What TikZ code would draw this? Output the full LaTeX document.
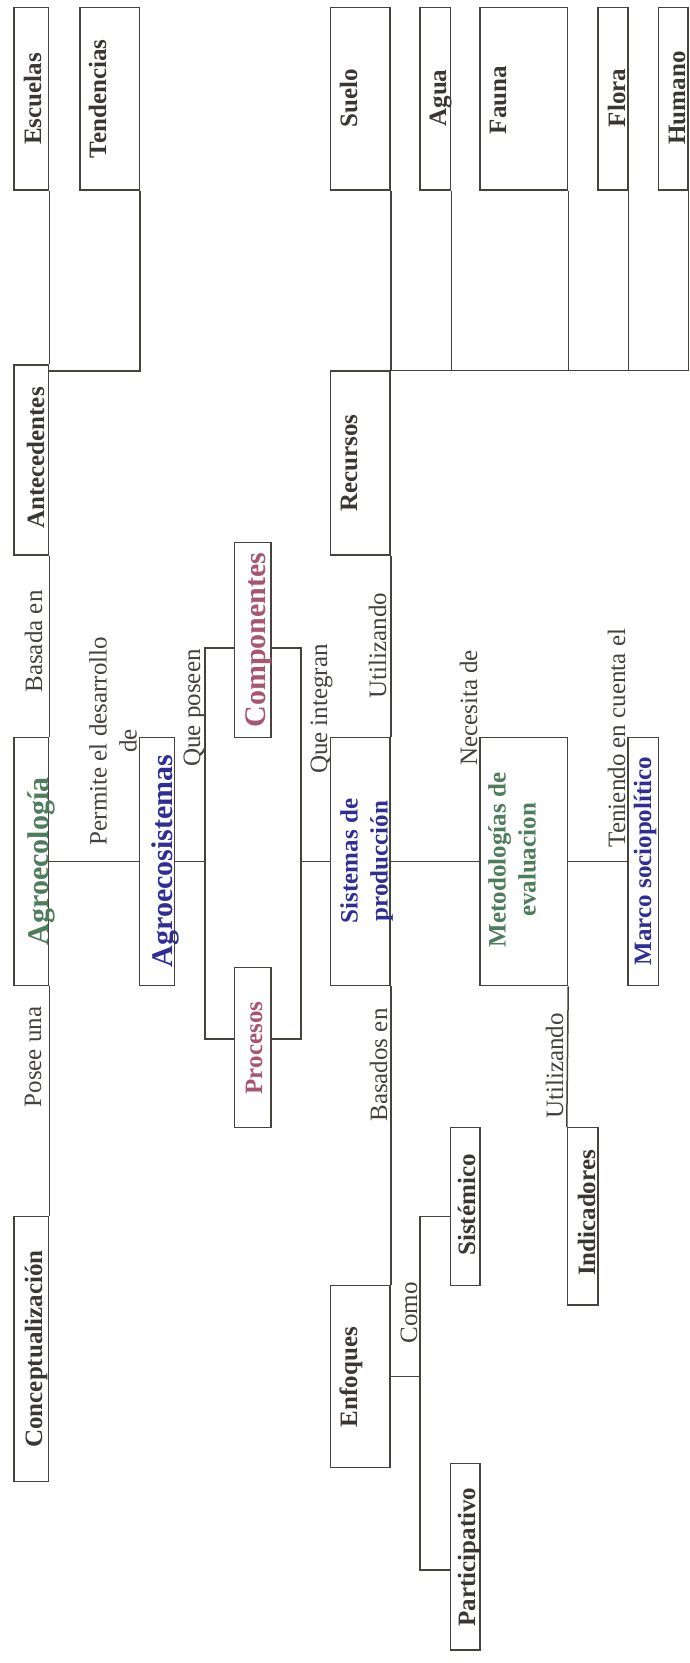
\documentclass[tikz,border=0pt]{standalone}
\usepackage{fontspec}
\setmainfont{Liberation Serif}
\definecolor{ln}{HTML}{46423E}
\definecolor{tx}{HTML}{3A3633}
\definecolor{lt}{HTML}{45413E}
\definecolor{gr}{HTML}{4E7D5B}
\definecolor{bl}{HTML}{2E2E96}
\definecolor{pk}{HTML}{A8566F}
\tikzset{
  box/.style={draw=ln, line width=1.5pt, inner sep=0pt, minimum width=#1},
  conn/.style={draw=ln, line width=1.5pt},
  bt/.style={rotate=90, anchor=base, inner sep=0pt, text=tx, font=\fontsize{25}{30}\selectfont\bfseries},
  big/.style={rotate=90, anchor=base, inner sep=0pt, text=tx, font=\fontsize{30}{34}\selectfont\bfseries},
  bc/.style={rotate=90, anchor=center, align=center, inner sep=0pt, text=tx, font=\fontsize{25}{30}\selectfont\bfseries},
  lb/.style={rotate=90, anchor=base, inner sep=0pt, text=lt, font=\fontsize{25}{30}\selectfont},
  lc/.style={rotate=90, anchor=center, align=center, inner sep=0pt, text=lt, font=\fontsize{25}{30}\selectfont},
}
\begin{document}
\begin{tikzpicture}[x=1pt,y=-1pt]
\fill[white] (0,0) rectangle (689,1663);
\useasboundingbox (0,0) rectangle (689,1663);
% boxes
\node[box=34.5pt, minimum height=182.7pt] (Esc) at (31.25,98.65) {};
\node[box=59.1pt, minimum height=182.7pt] (Ten) at (109.75,98.65) {};
\node[box=59.5pt, minimum height=182.7pt] (Sue) at (360.45,98.65) {};
\node[box=30.4pt, minimum height=182.7pt] (Agu) at (435.4,98.65) {};
\node[box=87.3pt, minimum height=182.7pt] (Fau) at (523.85,98.65) {};
\node[box=30pt, minimum height=182.7pt] (Flo) at (612.9,98.65) {};
\node[box=29.5pt, minimum height=182.7pt] (Hum) at (673.05,98.65) {};
\node[box=34.5pt, minimum height=190pt] (Ant) at (31.25,460) {};
\node[box=59.5pt, minimum height=184pt] (Rec) at (360.45,463) {};
\node[box=36.5pt, minimum height=195pt] (Com) at (252.75,640.2) {};
\node[box=34.5pt, minimum height=248pt] (Agr) at (31.25,861.7) {};
\node[box=35.3pt, minimum height=248pt] (Aes) at (156.95,861.7) {};
\node[box=59.5pt, minimum height=248pt] (Sis) at (360.45,861.7) {};
\node[box=87.3pt, minimum height=248pt] (Met) at (523.85,861.7) {};
\node[box=30.3pt, minimum height=248pt] (Mar) at (643.15,861.7) {};
\node[box=36.5pt, minimum height=160pt] (Pro) at (252.75,1047.7) {};
\node[box=29.6pt, minimum height=158pt] (Sst) at (465.4,1206.7) {};
\node[box=30.4pt, minimum height=177.3pt] (Ind) at (582.7,1216.35) {};
\node[box=34.5pt, minimum height=265pt] (Con) at (31.25,1349.2) {};
\node[box=59.5pt, minimum height=182pt] (Enf) at (360.45,1376.7) {};
\node[box=29.6pt, minimum height=186.7pt] (Par) at (465.4,1556.65) {};
% junction points
\coordinate (jA) at (48.5,371);
\coordinate (b1) at (205,648);
\coordinate (b2) at (301,648);
\coordinate (b3) at (205,1039);
\coordinate (b4) at (301,1039);
\coordinate (c1) at (420.2,1216.7);
\coordinate (c2) at (420.2,1570);
% connectors
\draw[conn] (Esc.south east) -- (Ant.north east);
\draw[conn] (Ten.south east) |- (jA);
\draw[conn] (Sue.south east) -- (Rec.north east);
\draw[conn] (Agu.south east) |- (Rec.north east);
\draw[conn] (Fau.south east) |- (Rec.north east);
\draw[conn] (Flo.south east) |- (Rec.north east);
\draw[conn] (Hum.south east) |- (Rec.north east);
\draw[conn] (Ant.south east) -- (Agr.north east);
\draw[conn] (Agr.south east) -- (Con.north east);
\draw[conn] (Agr.east) -- (Aes.west);
\draw[conn] (Aes.east) -- (Aes.east -| b1);
\draw[conn] (Com.west |- b1) -- (b1) -- (b3) -- (Pro.west |- b3);
\draw[conn] (Com.east |- b2) -- (b2) -- (b4) -- (Pro.east |- b4);
\draw[conn] (Sis.west -| b2) -- (Sis.west);
\draw[conn] (Rec.south east) -- (Sis.north east);
\draw[conn] (Sis.south east) -- (Enf.north east);
\draw[conn] (Sis.east) -- (Met.west);
\draw[conn] (Met.east) -- (Mar.west);
\draw[conn] (Met.south east) -- (Ind.north west);
\draw[conn] (Enf.east) -- (Enf.east -| c1);
\draw[conn] (Sst.west |- c1) -- (c1) -- (c2) -- (Par.west |- c2);
% box texts
\node[bt] (tEsc) at (41,99) {Escuelas};
\node[bt] (tTen) at (106,99) {Tendencias};
\node[bt] (tSue) at (357,98.5) {Suelo};
\node[bt] (tAgu) at (446,98) {Agua};
\node[bt] (tFau) at (506,100) {Fauna};
\node[bt] (tFlo) at (625,98) {Flora};
\node[bt] (tHum) at (685,98) {Humano};
\node[bt] (tAnt) at (44,458) {Antecedentes};
\node[bt] (tRec) at (357,463) {Recursos};
\node[big, text=pk] (tCom) at (265,640) {Componentes};
\node[big, text=gr] (tAgr) at (48,861.5) {Agroecología};
\node[big, text=bl] (tAes) at (172,861) {Agroecosistemas};
\node[bc, text=bl] (tSis) at (366.5,861) {Sistemas de\\producción};
\node[bc, text=gr] (tMet) at (512,860) {Metodologías de\\evaluacion};
\node[bt, text=bl] (tMar) at (651,861) {Marco sociopolítico};
\node[bt, text=pk] (tPro) at (262,1048) {Procesos};
\node[bt] (tSst) at (475,1205) {Sistémico};
\node[bt] (tInd) at (595,1213) {Indicadores};
\node[bt] (tCon) at (42,1349) {Conceptualización};
\node[bt] (tEnf) at (357,1377) {Enfoques};
\node[bt] (tPar) at (475,1557) {Participativo};
% connector labels
\node[lb] (l1) at (42,641.5) {Basada en};
\node[lb] (l2) at (41,1057) {Posee una};
\node[lc] (l3) at (113,741) {Permite el desarrollo\\de};
\node[lb] (l4) at (200,708) {Que poseen};
\node[lb] (l5) at (327,709) {Que integran};
\node[lb] (l6) at (386,645.5) {Utilizando};
\node[lb] (l7) at (477,708) {Necesita de};
\node[lb] (l8) at (625,738) {Teniendo en cuenta el};
\node[lb] (l9) at (387,1065) {Basados en};
\node[lb] (l10) at (563,1066) {Utilizando};
\node[lb] (l11) at (417,1313) {Como};
\end{tikzpicture}
\end{document}
